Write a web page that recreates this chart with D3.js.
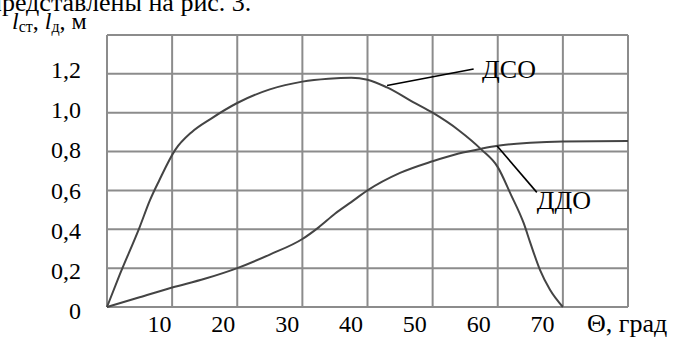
<!DOCTYPE html>
<html>
<head>
<meta charset="utf-8">
<script src="https://cdn.jsdelivr.net/npm/d3@7"></script>
</head>
<body style="margin:0">
<script>
// ДСО curve (upper)
const thetaDSO = [0, 2, 5, 6.6, 8, 10.5, 13, 16, 20, 25, 30, 34, 37.5, 40, 43, 47, 50, 54, 57.5, 60, 62, 64, 65, 66.5, 68, 70];
const valuesDSO = [0, 0.17, 0.41, 0.55, 0.65, 0.81, 0.9, 0.97, 1.05, 1.12, 1.16, 1.175, 1.18, 1.17, 1.13, 1.055, 1.0, 0.91, 0.81, 0.72, 0.58, 0.43, 0.33, 0.19, 0.09, 0];

// ДДО curve (lower)
const thetaDDO = [0, 5, 10, 15, 20, 25, 30, 32.5, 35, 37.5, 40, 45, 50, 54, 57.5, 60, 65, 70, 80];
const valuesDDO = [0, 0.05, 0.1, 0.145, 0.2, 0.27, 0.35, 0.41, 0.48, 0.54, 0.6, 0.69, 0.75, 0.79, 0.815, 0.83, 0.845, 0.852, 0.855];

const xTicks = [10, 20, 30, 40, 50, 60, 70];
const yTicks = [0, 0.2, 0.4, 0.6, 0.8, 1.0, 1.2];
const xGrid = [0, 10, 20, 30, 40, 50, 60, 70, 80];
const yGrid = [0, 0.2, 0.4, 0.6, 0.8, 1.0, 1.2, 1.4];

// callouts: point on curve, end of leader, text anchor (data units)
const callouts = [
    { text: "ДСО", from: [43, 1.14], to: [56.3, 1.225], at: [57.6, 1.18] },
    { text: "ДДО", from: [59.9, 0.829], to: [66.0, 0.59], at: [66.0, 0.505] }
];

const width = 674, height = 338;
const margin = { top: 35, right: 46, bottom: 31, left: 107 };

const svg = d3.select("body").append("svg")
    .attr("width", width)
    .attr("height", height);

const x = d3.scaleLinear().domain([0, 80]).range([margin.left, width - margin.right]);
const y = d3.scaleLinear().domain([0, 1.4]).range([height - margin.bottom, margin.top]);

// the printed tick labels sit on a slightly tighter spacing than the grid
const xLabel = d3.scaleLinear().domain([10, 70]).range([159.5, 542.5]);
const yLabel = d3.scaleLinear().domain([0, 1.2]).range([311, 70]);

const fmt = v => v === 0 ? "0" : d3.format(".1f")(v).replace(".", ",");

// caption text cut off at the top
svg.append("text")
    .attr("class", "big")
    .attr("x", -12)
    .attr("y", 11)
    .text("представлены на рис. 3.");

// grid
const grid = svg.append("g")
    .attr("stroke", "#8c8c8c")
    .attr("stroke-width", 2);

grid.selectAll("line.v").data(xGrid).join("line")
    .attr("class", "v")
    .attr("x1", d => x(d)).attr("x2", d => x(d))
    .attr("y1", y(0)).attr("y2", y(1.4));

grid.selectAll("line.h").data(yGrid).join("line")
    .attr("class", "h")
    .attr("x1", x(0)).attr("x2", x(80))
    .attr("y1", d => y(d)).attr("y2", d => y(d));

// tick labels
svg.append("g").selectAll("text").data(yTicks).join("text")
    .attr("x", 81)
    .attr("y", d => yLabel(d))
    .attr("dy", "0.34em")
    .attr("text-anchor", "end")
    .text(fmt);

svg.append("g").selectAll("text").data(xTicks).join("text")
    .attr("x", d => xLabel(d))
    .attr("y", 332)
    .attr("text-anchor", "middle")
    .text(d => d);

svg.append("text")
    .attr("class", "big")
    .attr("x", 587)
    .attr("y", 332)
    .text("Θ, град");

// y axis title
const yTitle = svg.append("text")
    .attr("x", 12)
    .attr("y", 29);
yTitle.append("tspan").style("font-style", "italic").text("l");
yTitle.append("tspan").style("font-size", "16px").attr("dy", 3).text("ст");
yTitle.append("tspan").attr("dy", -3).text(", ");
yTitle.append("tspan").style("font-style", "italic").text("l");
yTitle.append("tspan").style("font-size", "16px").attr("dy", 3).text("д");
yTitle.append("tspan").attr("dy", -3).text(", м");

// curves
const line = d3.line()
    .x(d => x(d[0]))
    .y(d => y(d[1]))
    .curve(d3.curveMonotoneX);

svg.append("path")
    .datum(d3.zip(thetaDSO, valuesDSO))
    .attr("d", line)
    .attr("fill", "none")
    .attr("stroke", "#444")
    .attr("stroke-width", 2);

svg.append("path")
    .datum(d3.zip(thetaDDO, valuesDDO))
    .attr("d", line)
    .attr("fill", "none")
    .attr("stroke", "#444")
    .attr("stroke-width", 2);

// callouts
callouts.forEach(c => {
    svg.append("line")
        .attr("x1", x(c.from[0])).attr("y1", y(c.from[1]))
        .attr("x2", x(c.to[0])).attr("y2", y(c.to[1]))
        .attr("stroke", "#000")
        .attr("stroke-width", 1.6);

    svg.append("text")
        .attr("class", "big")
        .attr("x", x(c.at[0]))
        .attr("y", y(c.at[1]))
        .text(c.text);
});

// serif face for every label, set on each text element
svg.selectAll("text")
    .style("font-family", '"Liberation Serif"')
    .style("font-size", "24px");
svg.selectAll("text.big").style("font-size", "26px");
</script>
</body>
</html>
